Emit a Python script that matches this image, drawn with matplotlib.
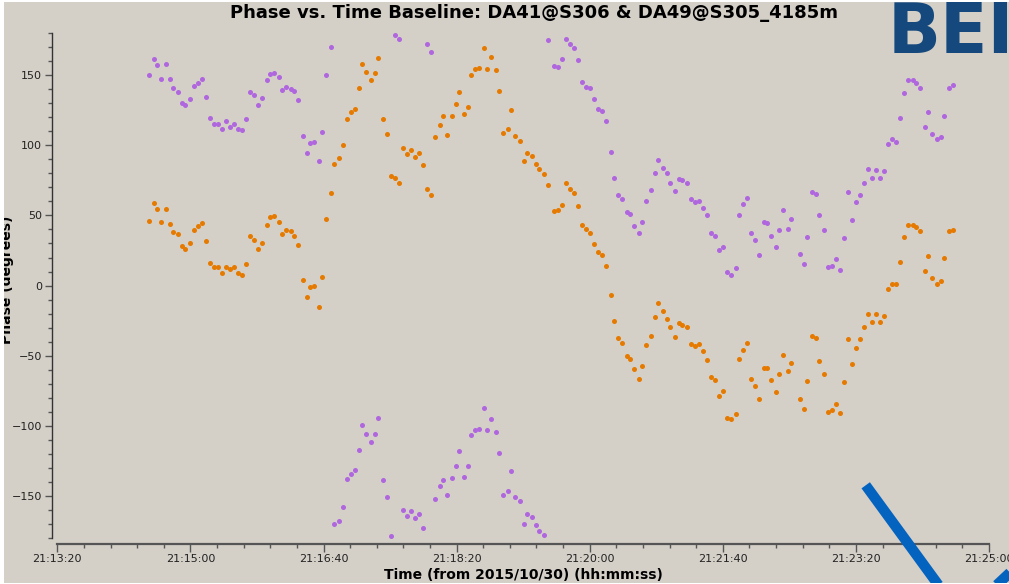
import numpy as np
import matplotlib.pyplot as plt
from matplotlib.ticker import MultipleLocator, FuncFormatter
from matplotlib.lines import Line2D
from matplotlib.patches import Rectangle

#start of the time axis: 21:13:20 in seconds of day
t_start = 21 * 3600 + 13 * 60 + 20

#sample times, seconds after 21:13:20
t_offset = [
    69.1, 72.4, 74.9, 78.1, 81.4, 84.6, 87.1, 90.4, 93.4, 96.1,
    99.4, 102.7, 105.9, 108.4, 111.7, 114.7, 117.4, 120.5, 123.7, 126.5,
    129.5, 132.7, 135.9, 138.7, 141.9, 144.9, 147.7, 150.7, 153.9, 157.2,
    159.7, 162.9, 166.3, 168.7, 172.0, 175.3, 177.7, 181.0, 184.3, 187.5,
    190.0, 193.0, 196.3, 198.8, 202.0, 205.3, 208.0, 211.3, 214.3, 217.5,
    220.3, 223.3, 226.6, 229.0, 232.3, 235.6, 238.8, 241.3, 244.6, 247.8,
    250.4, 253.6, 256.8, 259.4, 262.6, 265.8, 268.8, 271.6, 274.8, 278.1,
    280.6, 283.8, 287.2, 289.6, 292.9, 296.2, 299.2, 301.9, 305.2, 308.2,
    310.9, 313.9, 317.2, 320.4, 322.9, 326.2, 329.4, 331.9, 335.2, 338.4,
    340.9, 344.2, 347.5, 350.7, 353.2, 356.5, 359.7, 362.2, 365.5, 368.7,
    373.2, 376.5, 379.0, 382.2, 385.5, 388.0, 391.2, 394.5, 397.5, 400.2,
    403.5, 406.6, 409.3, 412.6, 415.8, 418.3, 421.6, 424.6, 427.8, 430.3,
    433.6, 436.8, 439.3, 442.6, 445.8, 449.1, 451.6, 454.8, 458.1, 460.6,
    463.8, 467.1, 469.6, 472.9, 476.1, 479.4, 481.9, 485.1, 488.4, 490.9,
    494.1, 497.4, 499.9, 503.1, 506.4, 509.6, 512.1, 515.4, 518.4, 521.1,
    524.4, 527.4, 530.7, 533.2, 536.5, 539.7, 542.2, 545.5, 548.7, 551.5,
    557.7, 560.9, 563.5, 566.7, 569.9, 572.5, 575.7, 579.0, 582.0, 584.7,
    588.0, 591.3, 593.8, 597.0, 600.0, 602.8, 606.0, 609.3, 612.3, 615.0,
    618.0, 621.3, 624.0, 627.3, 630.3, 632.8, 636.0, 639.3, 642.6, 645.0,
    648.3, 651.6, 654.1, 657.4, 660.6, 663.8, 666.4, 669.6, 672.8,
]

#phase (degrees), purple series
phase_purple = [
    149.8, 161.2, 156.9, 147.2, 157.6, 147.2, 141.0, 137.9, 130.1, 128.8,
    133.1, 142.2, 144.1, 147.2, 134.3, 119.2, 115.3, 115.3, 111.8, 117.2,
    113.0, 115.3, 111.8, 110.6, 118.4, 138.1, 135.5, 128.4, 133.8, 146.4,
    150.7, 151.4, 148.4, 139.3, 141.2, 140.0, 138.8, 132.0, 106.3, 94.7,
    101.4, 102.5, 88.7, 109.4, 149.8, 169.7, -170.0, -167.7, -157.5, -137.7,
    -134.2, -131.1, -117.1, -99.3, -105.5, -111.6, -105.5, -94.5, -138.5, -150.6,
    -178.6, 178.7, 175.9, -159.8, -164.1, -160.3, -165.3, -162.9, -172.6, 172.3,
    166.6, -151.8, -142.7, -138.5, -148.9, -137.3, -128.7, -117.8, -136.1, -128.7,
    -106.6, -103.1, -102.4, -87.2, -103.1, -95.0, -104.3, -119.4, -149.4, -146.5,
    -132.3, -150.6, -153.6, -169.6, -162.9, -164.8, -170.7, -175.0, -177.4, 175.1,
    156.4, 155.7, 161.2, 175.9, 172.3, 169.0, 160.5, 145.2, 141.7, 140.5,
    132.7, 125.8, 124.1, 117.2, 95.4, 76.4, 64.7, 61.7, 52.6, 50.8,
    42.7, 37.2, 45.3, 60.5, 67.9, 80.0, 89.2, 83.8, 80.0, 73.3,
    67.2, 75.7, 75.2, 73.3, 61.7, 59.3, 60.0, 55.0, 50.1, 37.2,
    35.5, 25.1, 27.5, 9.9, 7.3, 12.3, 50.1, 58.1, 62.4, 37.2,
    32.5, 21.6, 45.3, 44.6, 35.5, 27.5, 39.8, 53.8, 40.3, 47.6,
    22.7, 15.4, 34.4, 66.4, 65.5, 50.1, 39.8, 13.5, 14.2, 18.9,
    11.1, 33.7, 66.7, 46.5, 59.3, 64.7, 73.3, 83.0, 76.9, 82.3,
    76.9, 81.8, 100.6, 104.4, 102.5, 119.6, 137.4, 146.4, 146.4, 144.1,
    141.0, 113.0, 123.9, 108.0, 104.4, 105.6, 120.8, 141.0, 142.9,
]

#phase (degrees), orange series
phase_orange = [
    45.8, 58.6, 54.3, 45.3, 54.3, 44.1, 38.0, 36.8, 28.2, 26.3,
    30.6, 39.8, 42.2, 44.8, 32.0, 15.9, 13.5, 13.0, 9.2, 13.5,
    11.6, 13.0, 8.8, 7.5, 15.4, 35.5, 32.5, 25.9, 30.6, 43.4,
    49.1, 49.6, 45.3, 36.8, 39.8, 38.7, 35.5, 28.9, 3.8, -8.3,
    -1.0, -0.3, -15.0, 6.3, 47.6, 66.2, 86.8, 91.1, 100.4, 118.7,
    123.4, 126.0, 140.5, 157.6, 152.1, 146.7, 151.4, 162.3, 118.7, 108.2,
    78.3, 76.4, 72.9, 97.8, 93.5, 96.6, 91.6, 94.2, 85.7, 68.6,
    64.3, 105.8, 114.4, 120.6, 107.0, 120.6, 129.6, 138.1, 122.2, 127.2,
    149.8, 154.5, 155.2, 169.2, 154.1, 162.6, 153.3, 138.8, 108.9, 111.3,
    125.3, 106.3, 102.8, 88.7, 94.2, 92.3, 86.4, 83.3, 79.5, 71.7,
    53.1, 53.6, 57.6, 73.3, 68.6, 66.0, 56.9, 42.9, 40.5, 37.2,
    29.4, 23.9, 21.6, 14.2, -6.6, -25.4, -37.5, -40.7, -49.9, -52.3,
    -59.6, -66.3, -57.3, -42.5, -35.9, -22.4, -12.6, -18.1, -23.8, -29.7,
    -36.4, -26.9, -27.8, -29.7, -41.4, -43.2, -41.4, -46.8, -53.0, -65.1,
    -67.0, -78.6, -74.8, -94.3, -95.0, -91.5, -52.5, -45.6, -40.9, -66.3,
    -71.3, -80.5, -58.5, -58.5, -67.0, -75.5, -63.2, -49.2, -60.8, -54.9,
    -80.5, -87.7, -68.2, -35.9, -37.1, -53.5, -63.2, -90.2, -88.4, -84.5,
    -90.7, -68.9, -37.8, -56.1, -44.4, -37.8, -29.3, -20.0, -26.1, -20.0,
    -26.1, -21.4, -2.2, 1.4, 0.9, 16.6, 34.8, 43.4, 43.4, 41.5,
    39.1, 10.6, 20.9, 5.2, 0.9, 3.3, 19.7, 38.7, 39.4,
]

bg = '#d4d0c8'
purple = '#b066de'
orange = '#e67a00'
W, H = 1009, 584
px = 72 / 100  #one pixel in points


def hms(v, pos=None):
    v = int(round(v))
    return f"{v // 3600:02d}:{(v % 3600) // 60:02d}:{v % 60:02d}"


fig = plt.figure(figsize=(W / 100, H / 100), dpi=100, facecolor=bg)
ax = fig.add_axes([57.3 / W, 1 - 538.3 / H, (989 - 57.3) / W, (538.3 - 32.9) / H])
ax.set_facecolor(bg)

t = t_start + np.array(t_offset)
ax.scatter(t, phase_purple, s=13, color=purple, linewidths=0, zorder=3)
ax.scatter(t, phase_orange, s=13, color=orange, linewidths=0, zorder=3)

ax.set_xlim(t_start, t_start + 700)
ax.set_ylim(-180, 180)

#axes look
for side in ['top', 'right']:
    ax.spines[side].set_visible(False)
ax.spines['left'].set_position(('outward', 5 * px))
ax.spines['bottom'].set_position(('outward', 5.5 * px))
ax.spines['left'].set_color('#333333')
ax.spines['bottom'].set_color('#555555')
ax.spines['left'].set_linewidth(1.0)
ax.spines['bottom'].set_linewidth(1.6)

ax.xaxis.set_major_locator(MultipleLocator(100))
ax.xaxis.set_minor_locator(MultipleLocator(20))
ax.xaxis.set_major_formatter(FuncFormatter(hms))
ax.yaxis.set_major_locator(MultipleLocator(50))
ax.yaxis.set_minor_locator(MultipleLocator(10))

ax.tick_params(which='major', length=7.5 * px, width=1, color='#555555',
               labelsize=8, labelcolor='#222222', pad=3 * px)
ax.tick_params(which='minor', length=4 * px, width=1, color='#555555')

#texts
fig.text(534 / W, 1 - 13 / H, "Phase vs. Time Baseline: DA41@S306 & DA49@S305_4185m",
         ha='center', va='center', fontsize=13, fontweight='bold', color='#000000')
fig.text(523 / W, 1 - 575 / H, "Time (from 2015/10/30) (hh:mm:ss)",
         ha='center', va='center', fontsize=10, fontweight='bold', color='#000000')
fig.text(7 / W, 1 - 280 / H, "Phase (degrees)", rotation=90,
         ha='center', va='center', fontsize=10, fontweight='bold', color='#000000')

#overlay bits on the screenshot
fig.text(888 / W, 1 - 53 / H, "BEI", ha='left', va='baseline',
         fontsize=50, fontweight='bold', family='DejaVu Sans', color='#15497d')
fig.add_artist(Line2D([865.7 / W, 945 / W], [1 - 485.3 / H, 1 - 594 / H],
                      transform=fig.transFigure, color='#0563c0', lw=7.5,
                      solid_capstyle='butt', zorder=10))
fig.add_artist(Line2D([1015 / W, 985 / W], [1 - 568 / H, 1 - 596 / H],
                      transform=fig.transFigure, color='#0563c0', lw=7.5,
                      solid_capstyle='butt', zorder=10))

#white frame of the screenshot
for x0, y0, w, h in [(0, 0, 4, H), (0, H - 2, W, 2), (0, 0, W, 1.5)]:
    fig.add_artist(Rectangle((x0 / W, y0 / H), w / W, h / H, transform=fig.transFigure,
                             facecolor='white', edgecolor='none', zorder=20))

fig.savefig('out.png', dpi=100, facecolor=bg)
